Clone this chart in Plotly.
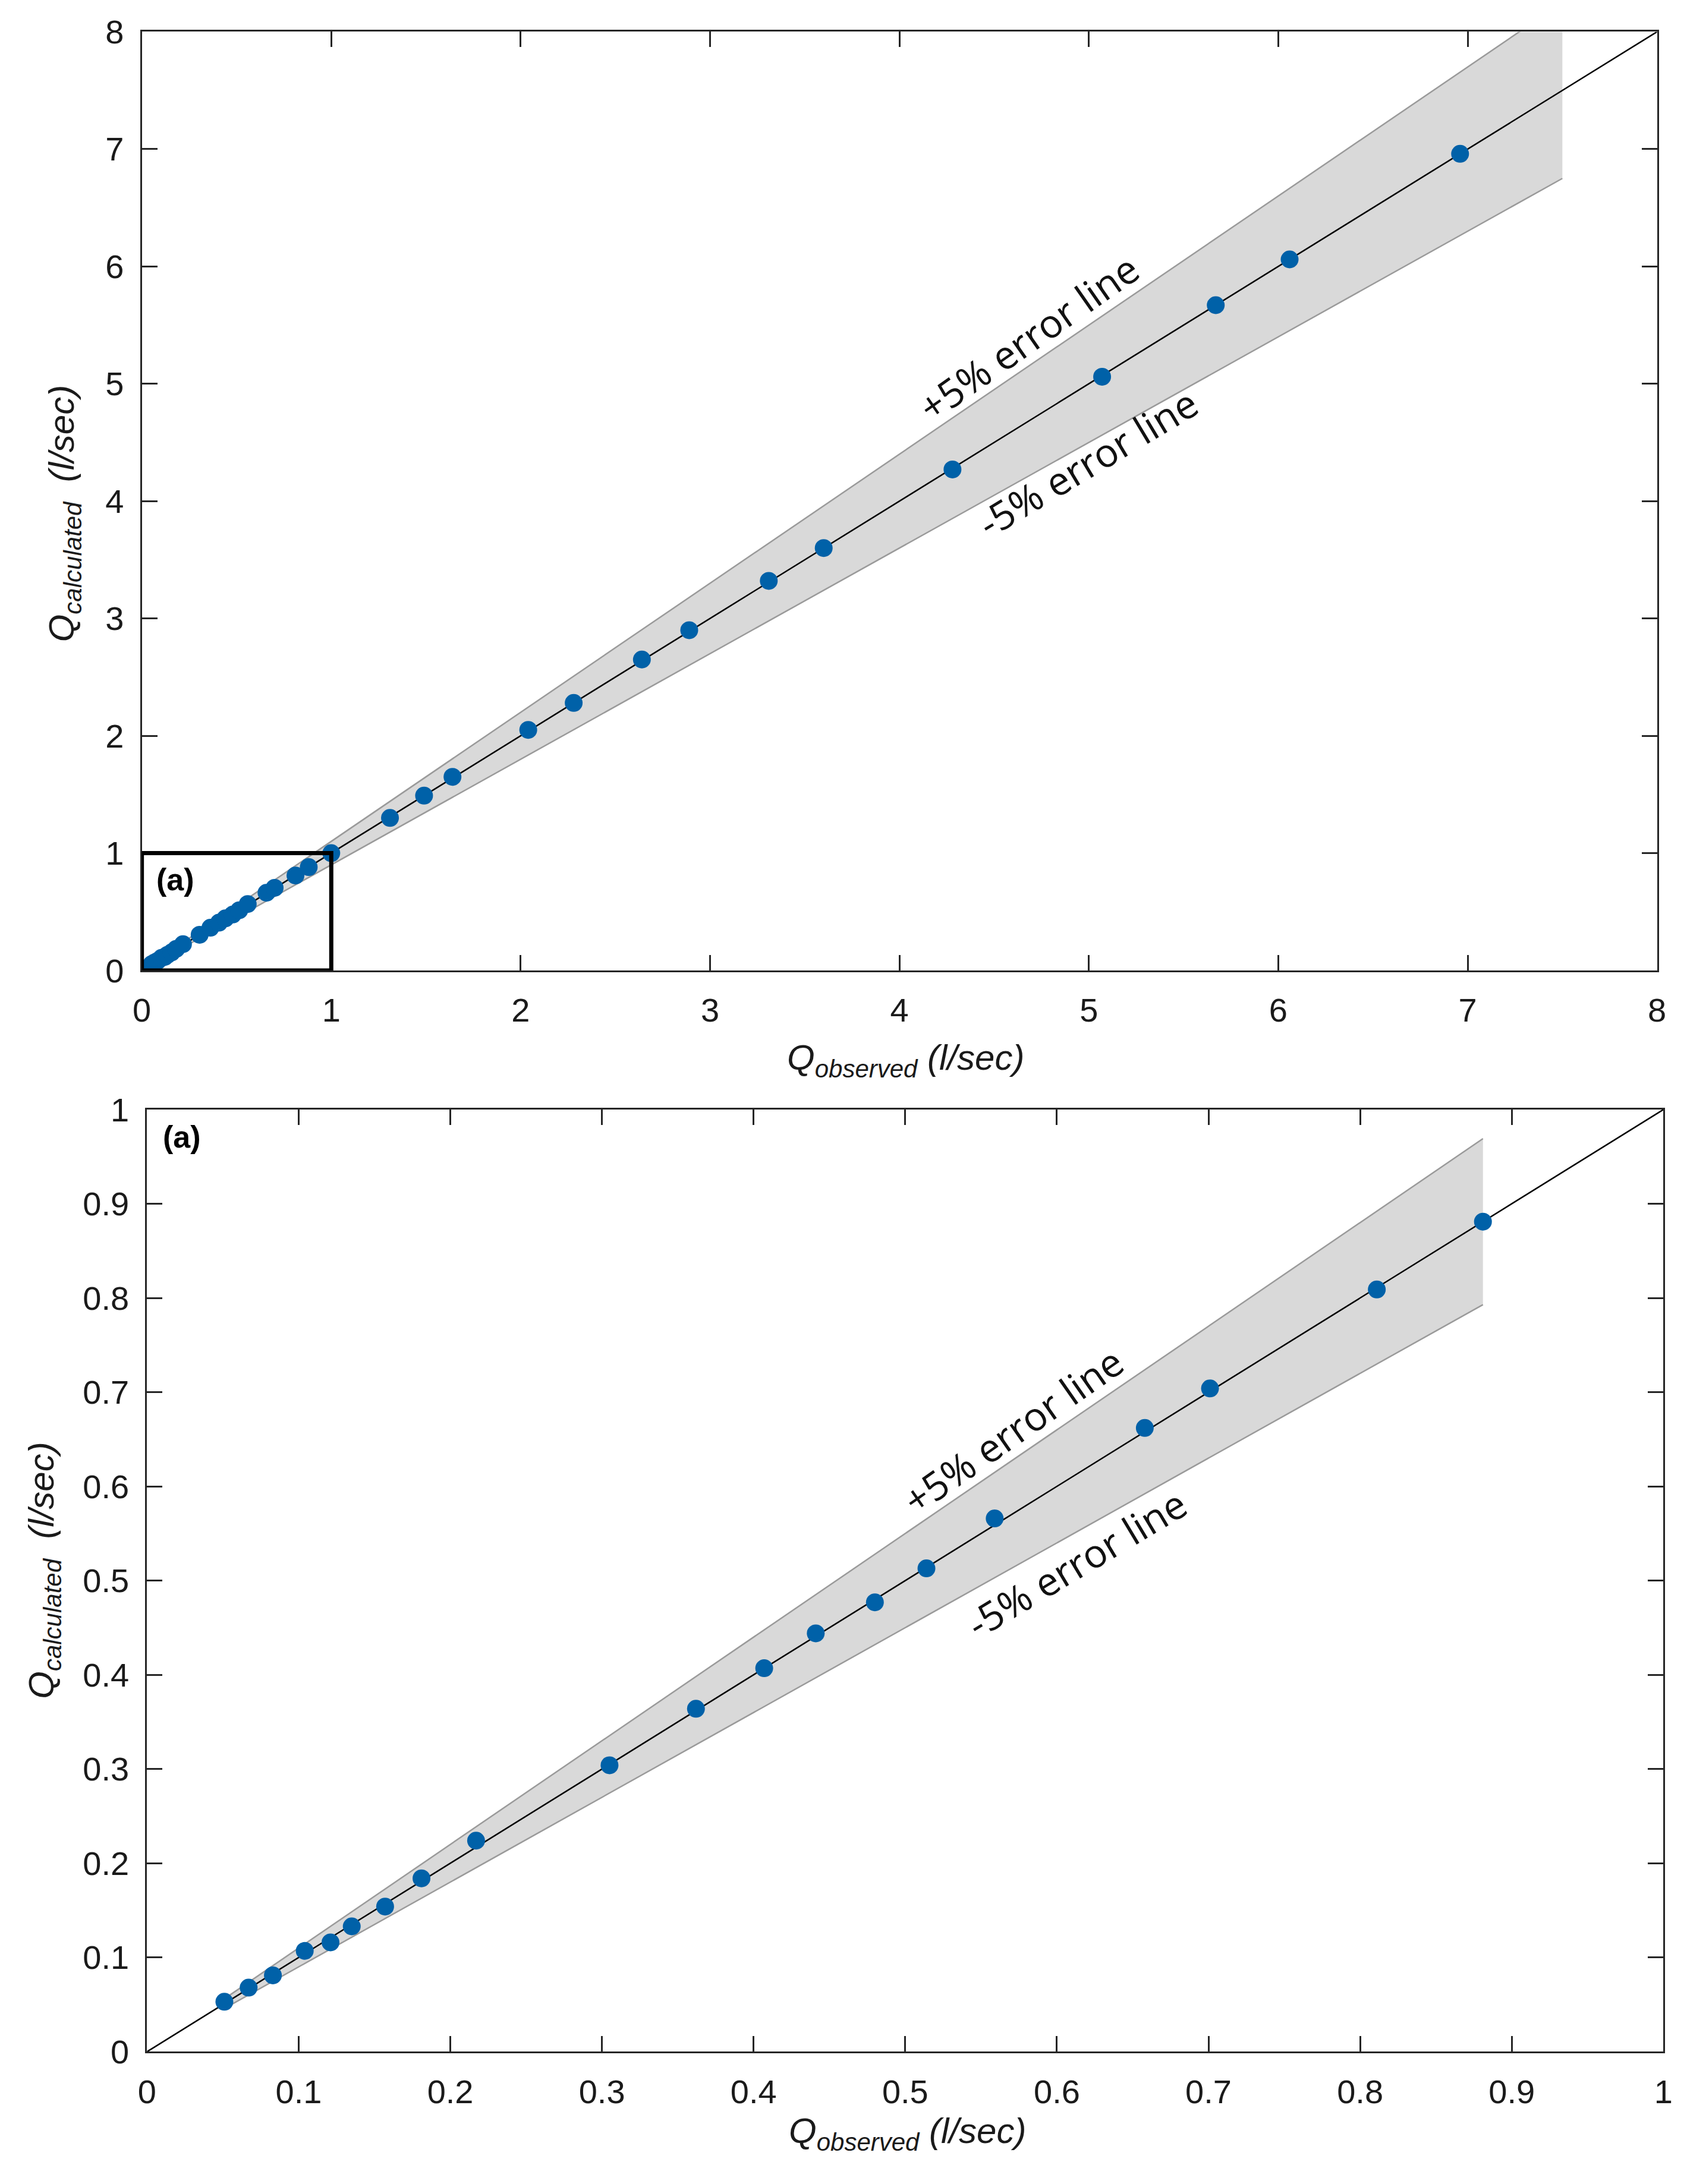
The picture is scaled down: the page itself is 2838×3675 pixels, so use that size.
import plotly.graph_objects as go

# observed vs calculated discharge (l/sec)
q_obs_small = [0.051, 0.067, 0.083, 0.104, 0.121, 0.135, 0.157, 0.181, 0.217, 0.305,
               0.362, 0.407, 0.441, 0.480, 0.514, 0.559, 0.658, 0.701, 0.811, 0.881]
q_cal_small = [0.053, 0.068, 0.081, 0.107, 0.116, 0.133, 0.154, 0.184, 0.224, 0.304,
               0.364, 0.407, 0.444, 0.477, 0.513, 0.566, 0.662, 0.704, 0.809, 0.881]
q_obs_large = [1.00, 1.31, 1.49, 1.64, 2.04, 2.28, 2.64, 2.89, 3.31, 3.60, 4.28, 5.07, 5.67, 6.06, 6.96]
q_cal_large = [1.00, 1.30, 1.49, 1.65, 2.05, 2.28, 2.65, 2.90, 3.32, 3.60, 4.27, 5.06, 5.67, 6.06, 6.96]

# error band limits
band_x_top = [0, 7.5]
band_hi_top = [0, 8.25]
band_lo_top = [0, 6.75]
band_x_bot = [0.051, 0.881]
band_hi_bot = [0.0561, 0.9691]
band_lo_bot = [0.0459, 0.7929]

MARK = "#0061a8"
TICKFONT = dict(family="Liberation Sans Narrow, Liberation Sans, Arial", size=56, color="#1a1a1a")
ANNFONT = dict(family="Open Sans, Noto Sans, sans-serif", size=66, color="#111111")

fig = go.Figure()


def add_panel(xa, ya, bx, bhi, blo, xs, ys, diag_max):
    fig.add_trace(go.Scatter(x=bx, y=blo, mode="lines", line=dict(color="#9a9a9a", width=2.5),
                             xaxis=xa, yaxis=ya, showlegend=False, hoverinfo="skip"))
    fig.add_trace(go.Scatter(x=bx, y=bhi, mode="lines", line=dict(color="#9a9a9a", width=2.5),
                             fill="tonexty", fillcolor="#d9d9d9",
                             xaxis=xa, yaxis=ya, showlegend=False, hoverinfo="skip"))
    fig.add_trace(go.Scatter(x=[0, diag_max], y=[0, diag_max], mode="lines",
                             line=dict(color="black", width=2.5),
                             xaxis=xa, yaxis=ya, showlegend=False, hoverinfo="skip"))
    fig.add_trace(go.Scatter(x=xs, y=ys, mode="markers",
                             marker=dict(color=MARK, size=30, line=dict(width=0)),
                             xaxis=xa, yaxis=ya, showlegend=False))


add_panel("x", "y", band_x_top, band_hi_top, band_lo_top,
          q_obs_small + q_obs_large, q_cal_small + q_cal_large, 8)
add_panel("x2", "y2", band_x_bot, band_hi_bot, band_lo_bot,
          q_obs_small, q_cal_small, 1)

axis_style = dict(showgrid=False, zeroline=False, showline=True, linecolor="#262626", linewidth=3,
                  mirror="ticks", ticks="inside", ticklen=26, tickwidth=3, tickcolor="#262626",
                  tickfont=TICKFONT, ticklabelstandoff=16)

fig.update_layout(
    width=2838, height=3675,
    margin=dict(l=0, r=0, t=0, b=0),
    paper_bgcolor="white", plot_bgcolor="white",
    xaxis=dict(domain=[0.0765, 0.9849], range=[0, 8], dtick=1, anchor="y", **axis_style),
    yaxis=dict(domain=[0.5587, 0.9960], range=[0, 8], dtick=1, anchor="x", **axis_style),
    xaxis2=dict(domain=[0.0796, 0.9887], range=[0, 1], dtick=0.1, anchor="y2", **axis_style),
    yaxis2=dict(domain=[0.0550, 0.4939], range=[0, 1], dtick=0.1, anchor="x2", **axis_style),
)

# inset box marking the zoomed region
fig.add_shape(type="rect", xref="x", yref="y", x0=0, y0=0, x1=1, y1=1,
              line=dict(color="black", width=7))

ann = [
    dict(xref="x", yref="y", x=4.68, y=5.40, text="+5% error line", textangle=-35),
    dict(xref="x", yref="y", x=4.99, y=4.33, text="-5% error line", textangle=-31),
    dict(xref="x2", yref="y2", x=0.571, y=0.660, text="+5% error line", textangle=-35),
    dict(xref="x2", yref="y2", x=0.6125, y=0.519, text="-5% error line", textangle=-31),
]
for a in ann:
    fig.add_annotation(showarrow=False, font=ANNFONT, xanchor="center", yanchor="middle", **a)

for xr, yr, x, y in [("x", "y", 0.176, 0.773), ("x2", "y2", 0.023, 0.971)]:
    fig.add_annotation(xref=xr, yref=yr, x=x, y=y, xanchor="center", yanchor="middle",
                       text="<b>(a)</b>", showarrow=False,
                       font=dict(family="Liberation Sans Narrow, Liberation Sans, Arial", size=52, color="black"))

TITLEFONT = dict(family="Liberation Sans Narrow, Liberation Sans, Arial", size=60, color="#1a1a1a")
xt = "<i>Q<sub>observed</sub> (l/sec)</i>"
yt = "<i>Q<sub>calculated</sub>  (l/sec)</i>"
titles = [
    (0.5345, 0.5168, xt, 0),
    (0.0298, 0.7714, yt, -90),
    (0.5356, 0.0168, xt, 0),
    (0.0180, 0.2790, yt, -90),
]
for x, y, t, ang in titles:
    fig.add_annotation(xref="paper", yref="paper", x=x, y=y, text=t, textangle=ang,
                       xanchor="center", yanchor="middle", showarrow=False, font=TITLEFONT)

fig.write_html("out.html")
